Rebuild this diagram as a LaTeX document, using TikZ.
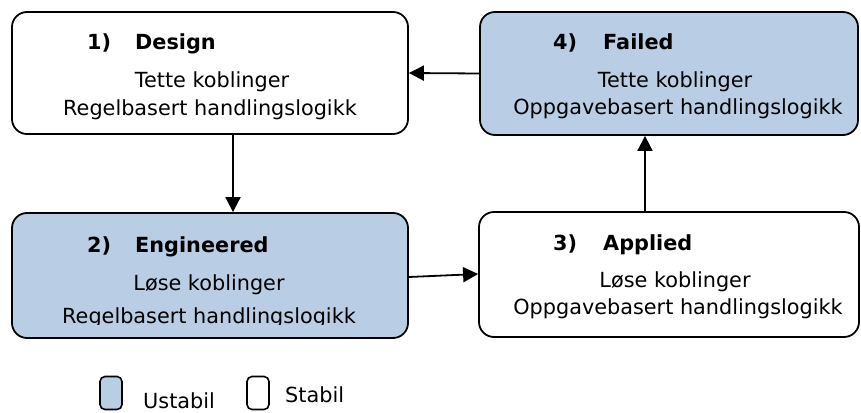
\documentclass[tikz,border=0pt]{standalone}
\usepackage{fontspec}
\setmainfont{DejaVu Sans}
\usetikzlibrary{arrows.meta}
\definecolor{unstable}{RGB}{185,205,229}

\begin{document}
\begin{tikzpicture}[x=1pt,y=-1pt,font=\fontsize{20.8}{25}\selectfont,
	flow/.style={line width=1.8pt,-{Triangle[length=15pt,width=15pt]}}]
	\useasboundingbox (0,0) rectangle (861,412);
	\begin{scope}[every node/.style={draw,line width=1.8pt,rounded corners=15pt,inner sep=0pt}]
		\node[minimum width=396pt,minimum height=122pt] (design) at (210,73) {};
		\node[fill=unstable,minimum width=378pt,minimum height=123pt] (failed) at (669,73.5) {};
		\node[fill=unstable,minimum width=396pt,minimum height=125pt] (engineered) at (210,275.5) {};
		\node[minimum width=380pt,minimum height=125pt] (applied) at (669,274.5) {};
	\end{scope}

	\begin{scope}[every node/.style={font=\fontsize{20.8}{25}\selectfont\bfseries,anchor=base west,inner sep=0pt}]
		\node (design-nr) at (87,50) {1)};
		\node (design-title) at (135,50) {Design};
		\node (engineered-nr) at (87,252) {2)};
		\node (engineered-title) at (135,252) {Engineered};
		\node (applied-nr) at (553,250) {3)};
		\node (applied-title) at (603,250) {Applied};
		\node (failed-nr) at (553,50) {4)};
		\node (failed-title) at (603,50) {Failed};
	\end{scope}

	\begin{scope}[every node/.style={anchor=base,inner sep=0pt}]
		\node (design-a) at (212,87) {Tette koblinger};
		\node (design-b) at (210,115) {Regelbasert handlingslogikk};
		\node (engineered-a) at (209,290) {Løse koblinger};
		\node (applied-a) at (675,287) {Løse koblinger};
		\node (applied-b) at (678,314) {Oppgavebasert handlingslogikk};
		\node (failed-a) at (675,87) {Tette koblinger};
		\node (failed-b) at (678,114) {Oppgavebasert handlingslogikk};
		% second line of box 2 is cut off at the bottom
		\begin{scope}
			\clip (0,0) rectangle (861,324.5);
			\node (engineered-b) at (209,323) {Regelbasert handlingslogikk};
		\end{scope}
	\end{scope}

	% legend
	\begin{scope}[every node/.style={draw,line width=1.6pt,rounded corners=5pt,inner sep=0pt,minimum width=22pt,minimum height=33pt}]
		\node[fill=unstable] (key-unstable) at (111,393) {};
		\node (key-stable) at (258,393) {};
	\end{scope}
	\node[anchor=base west,inner sep=0pt] (key-unstable-text) at (143,408) {Ustabil};
	\node[anchor=base west,inner sep=0pt] (key-stable-text) at (285,402) {Stabil};

	\draw[flow] ([xshift=23pt]design.south) -- ([xshift=23pt]engineered.north);
	\draw[flow] ([yshift=-1.5pt]engineered.east) -- ([yshift=0.5pt]applied.west);
	\draw[flow] ([xshift=-24pt]applied.north) -- ([xshift=-24pt]failed.south);
	\draw[flow] (failed.west) -- (design.east);
\end{tikzpicture}
\end{document}
